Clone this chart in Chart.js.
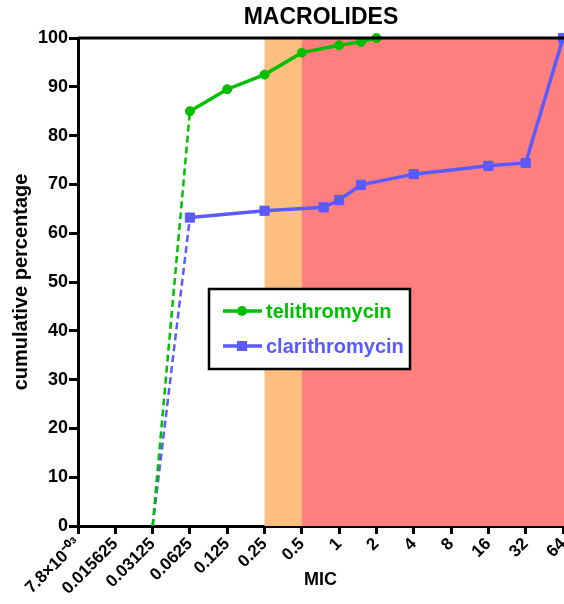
<!DOCTYPE html>
<html>
<head>
<meta charset="utf-8">
<script src="https://cdn.jsdelivr.net/npm/chart.js@4/dist/chart.umd.min.js"></script>
<style>
  html, body { margin: 0; padding: 0; background: #fff; }
  #wrap { width: 564px; height: 604px; position: relative; }
</style>
</head>
<body>
<div id="wrap"><canvas id="c" width="564" height="604"></canvas></div>
<script>
// ---- data ----
const chartTitle = "MACROLIDES";
const xTickValues = [0.0078125, 0.015625, 0.03125, 0.0625, 0.125, 0.25, 0.5, 1, 2, 4, 8, 16, 32, 64];
const xTickLabels = ["7.8×10⁻⁰³", "0.015625", "0.03125", "0.0625", "0.125", "0.25", "0.5", "1", "2", "4", "8", "16", "32", "64"];
const teliMIC = [0.03125, 0.0625, 0.125, 0.25, 0.5, 1, 1.5, 2];
const teliPct = [0, 85, 89.5, 92.5, 97, 98.5, 99.2, 100];
const clarMIC = [0.03125, 0.0625, 0.25, 0.75, 1, 1.5, 4, 16, 32, 64];
const clarPct = [0, 63.2, 64.6, 65.3, 66.8, 69.9, 72.1, 73.8, 74.4, 100];
const intermediateBand = [0.25, 0.5];
const resistantBand = [0.5, 64];
const seriesNames = ["telithromycin", "clarithromycin"];
const seriesColors = ["#00BE00", "#5A5AFF"];
const bandColors = ["#FDBF80", "#FF7F7F"];

const toPts = (xs, ys) => xs.map((x, i) => ({ x: x, y: ys[i] }));

const FONT = "'Liberation Sans', Arial, sans-serif";

const bandsPlugin = {
  id: 'bands',
  beforeDatasetsDraw(chart) {
    const { ctx, chartArea, scales } = chart;
    const x = scales.x;
    ctx.save();
    [[intermediateBand, bandColors[0]], [resistantBand, bandColors[1]]].forEach(([b, col]) => {
      const x0 = x.getPixelForValue(b[0]);
      const x1 = x.getPixelForValue(b[1]);
      ctx.fillStyle = col;
      ctx.fillRect(x0, chartArea.top, x1 - x0 + 1, chartArea.bottom - chartArea.top);
    });
    ctx.restore();
  },
  afterDatasetsDraw(chart) {
    const { ctx, chartArea } = chart;
    ctx.save();
    ctx.strokeStyle = '#000';
    ctx.lineWidth = 3;
    ctx.beginPath();
    ctx.moveTo(chartArea.left, chartArea.top);
    ctx.lineTo(chart.width, chartArea.top);
    ctx.stroke();
    ctx.fillStyle = '#000';
    ctx.font = "bold 23px " + FONT;
    ctx.textAlign = 'center';
    ctx.textBaseline = 'middle';
    ctx.fillText(chartTitle, 321, 18);
    ctx.restore();
  },
  afterDraw(chart) {
    const { ctx } = chart;
    ctx.save();
    const bx = 209, by = 289, bw = 201, bh = 80;
    ctx.fillStyle = '#fff';
    ctx.fillRect(bx, by, bw, bh);
    ctx.strokeStyle = '#000';
    ctx.lineWidth = 2.5;
    ctx.strokeRect(bx, by, bw, bh);
    const rows = [311, 346];
    chart.data.datasets.forEach((ds, i) => {
      const y = rows[i];
      ctx.strokeStyle = ds.borderColor;
      ctx.fillStyle = ds.borderColor;
      ctx.lineWidth = 3.5;
      ctx.beginPath();
      ctx.moveTo(223, y);
      ctx.lineTo(262, y);
      ctx.stroke();
      if (i === 0) {
        ctx.beginPath();
        ctx.arc(242, y, 5, 0, Math.PI * 2);
        ctx.fill();
      } else {
        ctx.fillRect(237, y - 5, 10, 10);
      }
      ctx.font = "bold 20px " + FONT;
      ctx.textAlign = 'left';
      ctx.textBaseline = 'middle';
      ctx.fillText(ds.label, 266, y + 1);
    });
    ctx.restore();
  }
};

const dashFirst = { borderDash: (c) => c.p0DataIndex === 0 ? [7, 4] : undefined,
                    borderWidth: (c) => c.p0DataIndex === 0 ? 2.5 : undefined };

new Chart(document.getElementById('c'), {
  type: 'line',
  data: {
    datasets: [
      {
        label: seriesNames[0],
        data: toPts(teliMIC, teliPct),
        borderColor: seriesColors[0],
        backgroundColor: seriesColors[0],
        borderWidth: 3.5,
        pointStyle: 'circle',
        pointRadius: teliMIC.map((_, i) => i === 0 ? 0 : 4.5),
        pointBorderWidth: 1,
        pointHoverRadius: 4.5,
        segment: dashFirst,
        tension: 0,
        clip: false
      },
      {
        label: seriesNames[1],
        data: toPts(clarMIC, clarPct),
        borderColor: seriesColors[1],
        backgroundColor: seriesColors[1],
        borderWidth: 3.5,
        pointStyle: 'rect',
        pointRadius: clarMIC.map((_, i) => i === 0 ? 0 : 6.5),
        pointBorderWidth: 1,
        pointHoverRadius: 6.5,
        segment: dashFirst,
        tension: 0,
        clip: false
      }
    ]
  },
  options: {
    responsive: false,
    animation: false,
    layout: { autoPadding: false, padding: { top: 38, right: 1, left: 0, bottom: 0 } },
    plugins: { legend: { display: false }, title: { display: false }, tooltip: { enabled: false } },
    scales: {
      x: {
        type: 'logarithmic',
        min: xTickValues[0],
        max: xTickValues[xTickValues.length - 1],
        afterBuildTicks(scale) { scale.ticks = xTickValues.map(v => ({ value: v })); },
        afterFit(scale) { scale.height = 78; scale.paddingLeft = 0; scale.paddingRight = 0; },
        ticks: {
          autoSkip: false,
          minRotation: 45,
          maxRotation: 45,
          padding: 0,
          color: '#000',
          font: { family: FONT, size: 17, weight: 'bold' },
          callback: (v, i) => xTickLabels[i]
        },
        grid: { display: true, drawOnChartArea: false, drawTicks: true, tickLength: 8, tickWidth: 3, color: '#000' },
        border: { display: true, color: '#000', width: 3 },
        title: { display: true, text: 'MIC', color: '#000', padding: { top: 0, bottom: 13 },
                 font: { family: FONT, size: 18, weight: 'bold' } }
      },
      y: {
        min: 0, max: 100,
        afterFit(scale) { scale.width = 78; },
        ticks: { stepSize: 10, padding: 1, color: '#000', font: { family: FONT, size: 18, weight: 'bold' } },
        grid: { display: true, drawOnChartArea: false, drawTicks: true, tickLength: 9, tickWidth: 3, color: '#000' },
        border: { display: true, color: '#000', width: 3 },
        title: { display: true, text: 'cumulative percentage', color: '#000', padding: { top: 9, bottom: 0 },
                 font: { family: FONT, size: 20, weight: 'bold' } }
      }
    }
  },
  plugins: [bandsPlugin]
});
</script>
</body>
</html>
